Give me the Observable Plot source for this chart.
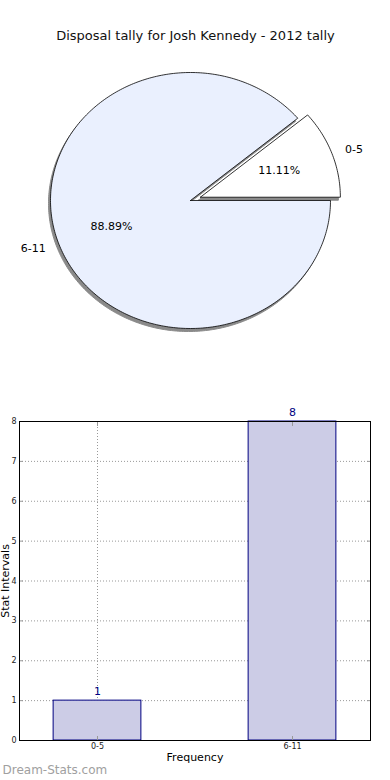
<!DOCTYPE html>
<html>
<head>
<meta charset="utf-8">
<script src="https://cdn.jsdelivr.net/npm/d3@7"></script>
<script src="https://cdn.jsdelivr.net/npm/@observablehq/plot@0.6"></script>
<style>
  html, body { margin: 0; padding: 0; background: #fff; }
  #chart svg { display: block; }
</style>
</head>
<body>
<div id="chart"></div>
<script>
const title = "Disposal tally for Josh Kennedy - 2012 tally";
const categories = ["0-5", "6-11"];
const counts = [1, 8];
const explode = [0.075, 0];
const yTicks = [0, 1, 2, 3, 4, 5, 6, 7, 8];
const xLabel = "Frequency";
const yLabel = "Stat Intervals";
const watermark = "Dream-Stats.com";

const FONT = "DejaVu Sans, Verdana, sans-serif";
const sliceFills = ["#ffffff", "#eaf0fe"];

// ---- pie geometry (unit circle, counterclockwise from east) ----
const total = d3.sum(counts);
const ends = Array.from(d3.cumsum(counts), c => c / total * 2 * Math.PI);
const slices = counts.map((c, i) => {
  const a0 = i === 0 ? 0 : ends[i - 1];
  const a1 = ends[i];
  const mid = (a0 + a1) / 2;
  const cx = explode[i] * Math.cos(mid);
  const cy = explode[i] * Math.sin(mid);
  const n = Math.max(2, Math.ceil((a1 - a0) / (Math.PI / 180)));
  const pts = [{x: cx, y: cy}];
  for (let k = 0; k <= n; k++) {
    const a = a0 + (a1 - a0) * k / n;
    pts.push({x: cx + Math.cos(a), y: cy + Math.sin(a)});
  }
  pts.push({x: cx, y: cy});
  return {i, label: categories[i], pct: (c / total * 100).toFixed(2) + "%", mid, cx, cy, pts};
});

const pieMarks = [];
slices.forEach(s => pieMarks.push(Plot.line(s.pts, {x: "x", y: "y", fill: "#8a8a8a", stroke: "#8a8a8a", strokeWidth: 1, dx: -2, dy: 3})));
slices.forEach(s => pieMarks.push(Plot.line(s.pts, {x: "x", y: "y", fill: sliceFills[s.i], stroke: "#000", strokeWidth: 0.8})));
pieMarks.push(Plot.text(slices, {
  x: s => s.cx + 0.6 * Math.cos(s.mid), y: s => s.cy + 0.6 * Math.sin(s.mid),
  text: "pct", fontSize: 11, fill: "#000"
}));
const rightLabels = slices.filter(s => Math.cos(s.mid) >= 0);
const leftLabels = slices.filter(s => Math.cos(s.mid) < 0);
pieMarks.push(Plot.text(rightLabels, {
  x: s => s.cx + 1.1 * Math.cos(s.mid), y: s => s.cy + 1.1 * Math.sin(s.mid),
  text: "label", fontSize: 11, fill: "#000", textAnchor: "start"
}));
pieMarks.push(Plot.text(leftLabels, {
  x: s => s.cx + 1.1 * Math.cos(s.mid), y: s => s.cy + 1.1 * Math.sin(s.mid),
  text: "label", fontSize: 11, fill: "#000", textAnchor: "end"
}));
pieMarks.push(Plot.text([title], {frameAnchor: "top", dy: 30, fontSize: 13, fill: "#111"}));

const pie = Plot.plot({
  width: 390, height: 390,
  margin: 0,
  x: {domain: [-190 / 140, 200 / 140], axis: null},
  y: {domain: [-190 / 128, 200 / 128], axis: null},
  style: {fontFamily: FONT, background: "#fff"},
  marks: pieMarks
});

// ---- bar chart ----
const bars = categories.map((c, i) => ({cat: c, idx: i, count: counts[i]}));
const halfW = 0.225;

const bar = Plot.plot({
  width: 390, height: 390,
  marginTop: 31, marginBottom: 40, marginLeft: 19, marginRight: 20,
  x: {domain: [-0.4, 1.4], axis: null},
  y: {domain: [0, 8], axis: null},
  style: {fontFamily: FONT, fontSize: "8px", background: "#fff"},
  marks: [
    Plot.gridY(yTicks, {stroke: "#999", strokeOpacity: 1, strokeDasharray: "1,2"}),
    Plot.gridX(bars.map(d => d.idx), {stroke: "#999", strokeOpacity: 1, strokeDasharray: "1,2"}),
    Plot.rectY(bars, {x1: d => d.idx - halfW, x2: d => d.idx + halfW, y1: 0, y2: "count", fill: "#ccccE6", stroke: "#000080", strokeWidth: 1}),
    Plot.text(bars, {x: "idx", y: "count", text: d => String(d.count), dy: -9, fill: "#000080", fontSize: 11}),
    Plot.axisY(yTicks, {anchor: "left", tickSize: -4, tickPadding: 7, stroke: "#999", fill: "#222", tickFormat: d => String(d), fontSize: 8, label: null}),
    Plot.axisY(yTicks, {anchor: "right", tickSize: -4, stroke: "#999", tickFormat: () => "", label: null}),
    Plot.axisX(bars.map(d => d.idx), {anchor: "bottom", tickSize: -4, tickPadding: 7, stroke: "#999", fill: "#222", tickFormat: i => categories[i], fontSize: 8, label: null}),
    Plot.axisX(bars.map(d => d.idx), {anchor: "top", tickSize: -4, stroke: "#999", tickFormat: () => "", label: null}),
    Plot.frame({stroke: "#000", strokeWidth: 1}),
    Plot.text([yLabel], {frameAnchor: "left", dx: -14, rotate: -90, textAnchor: "middle", fontSize: 11, fill: "#000"}),
    Plot.text([xLabel], {frameAnchor: "bottom", dy: 20, fontSize: 11, fill: "#000"}),
    Plot.text([watermark], {frameAnchor: "bottom-left", dx: -17, dy: 30, textAnchor: "start", lineAnchor: "middle", fontSize: 12, fill: "#a0a0a0"})
  ]
});

document.getElementById("chart").append(pie, bar);
</script>
</body>
</html>
